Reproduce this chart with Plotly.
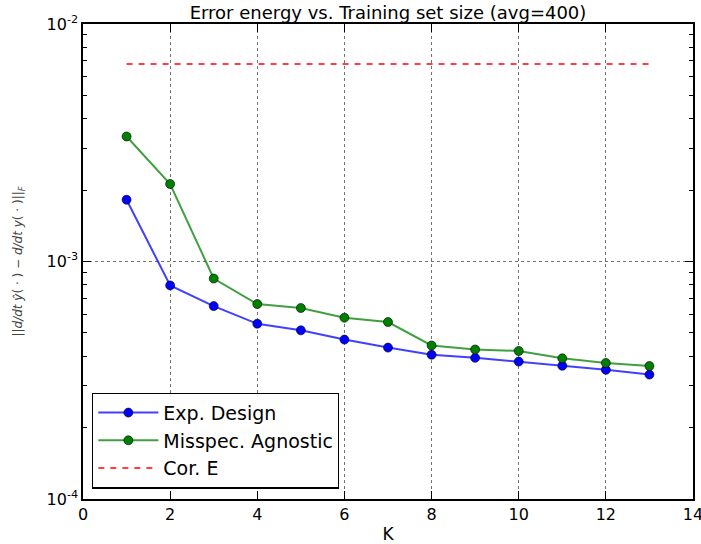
import plotly.graph_objects as go

K = list(range(1, 14))
exp_design = [1.82e-3, 7.93e-4, 6.49e-4, 5.47e-4, 5.13e-4, 4.69e-4, 4.34e-4,
              4.05e-4, 3.93e-4, 3.79e-4, 3.64e-4, 3.50e-4, 3.34e-4]
misspec_agnostic = [3.36e-3, 2.12e-3, 8.48e-4, 6.62e-4, 6.37e-4, 5.80e-4, 5.56e-4,
                    4.43e-4, 4.26e-4, 4.20e-4, 3.91e-4, 3.74e-4, 3.63e-4]
cor_e_K = [1, 13]
cor_e = [6.79e-3, 6.79e-3]

y_tickvals = [1e-4, 1e-3, 1e-2]
y_ticktext = ["10<sup>-4</sup>", "10<sup>-3</sup>", "10<sup>-2</sup>"]
x_tickvals = [0, 2, 4, 6, 8, 10, 12, 14]

FONT = "DejaVu Sans"

fig = go.Figure()
fig.add_trace(go.Scatter(
    x=K, y=exp_design, mode="lines+markers", name="Exp. Design",
    line=dict(color="rgba(0,0,255,0.75)", width=2),
    marker=dict(color="#0000ff", size=9, line=dict(color="rgba(0,0,0,0.6)", width=1)),
))
fig.add_trace(go.Scatter(
    x=K, y=misspec_agnostic, mode="lines+markers", name="Misspec. Agnostic",
    line=dict(color="rgba(0,128,0,0.75)", width=2),
    marker=dict(color="#008000", size=9, line=dict(color="rgba(0,0,0,0.6)", width=1)),
))
fig.add_trace(go.Scatter(
    x=cor_e_K, y=cor_e, mode="lines", name="Cor. E",
    line=dict(color="#ff0000", width=1.5, dash="6px,6px"),
))

fig.update_layout(
    width=701, height=544,
    margin=dict(l=83, r=8, t=24, b=45, autoexpand=False),
    paper_bgcolor="white", plot_bgcolor="white",
    font=dict(family=FONT, size=16, color="black"),
    title=dict(text="Error energy vs. Training set size (avg=400)",
               x=0.5, xref="paper", xanchor="center",
               y=1 - 12.5 / 544, yref="container", yanchor="middle",
               font=dict(family=FONT, size=18, color="black")),
    showlegend=True,
    legend=dict(x=0.015, y=0.022, xanchor="left", yanchor="bottom",
                bgcolor="white", bordercolor="black", borderwidth=1.2,
                font=dict(family=FONT, size=19, color="black"),
                tracegroupgap=3, itemwidth=60),
)

fig.update_xaxes(
    range=[0, 14], tickvals=x_tickvals, ticktext=[str(v) for v in x_tickvals],
    ticks="inside", ticklen=8, tickcolor="black", tickwidth=1,
    showline=True, linecolor="black", linewidth=1.5, mirror="ticks",
    showgrid=True, gridcolor="rgba(0,0,0,0.55)", griddash="dot", gridwidth=1,
    zeroline=False, automargin=False, ticklabeloverflow="allow",
    title=dict(text="K", font=dict(family=FONT, size=17), standoff=6),
    tickfont=dict(family=FONT, size=16),
)
fig.update_yaxes(
    type="log", range=[-4, -2], tickvals=y_tickvals, ticktext=y_ticktext,
    ticks="inside", ticklen=8, tickcolor="black", tickwidth=1,
    showline=True, linecolor="black", linewidth=1.5, mirror="ticks",
    showgrid=True, gridcolor="rgba(0,0,0,0.55)", griddash="dot", gridwidth=1,
    zeroline=False, automargin=False,
    minor=dict(ticks="inside", ticklen=4, tickcolor="black", showgrid=False,
               dtick="D1"),
    title=dict(text="||<i>d/dt ŷ</i>( · ) − <i>d/dt y</i>( · )||<sub><i>F</i></sub>",
               font=dict(family=FONT, size=12, color="#444444"), standoff=21),
    tickfont=dict(family=FONT, size=16),
)

fig.write_html("out.html",
               config={"displayModeBar": False},
               post_script="document.body.style.margin='0';document.body.style.overflow='hidden';")
